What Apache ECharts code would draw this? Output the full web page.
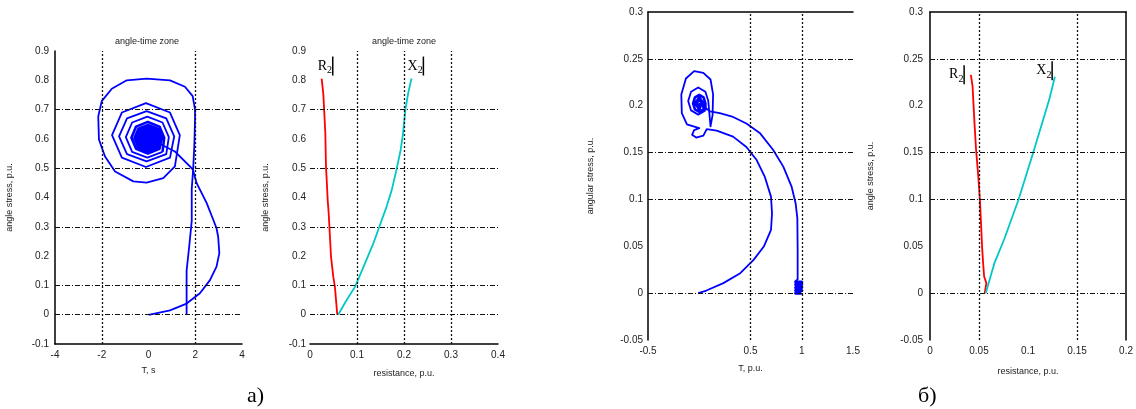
<!DOCTYPE html>
<html><head><meta charset="utf-8">
<script src="https://cdn.jsdelivr.net/npm/echarts@6/dist/echarts.min.js"></script>
<style>html,body{margin:0;padding:0;background:#fff;}#c{width:1136px;height:409px;}</style>
</head><body><div id="c"></div>
<script>
// ---- panel a), left: phase trajectory ----
const armA = [
  [1.63,0.0],[1.63,0.15],[1.74,0.232],[1.85,0.32],[1.85,0.43],[1.91,0.495],[1.96,0.575],[1.99,0.666],[1.99,0.70],
  [1.89,0.746],[1.56,0.778],[0.92,0.80],[-0.08,0.806],[-0.93,0.80],[-1.57,0.771],[-2.0,0.729],[-2.15,0.677],
  [-2.12,0.598],[-1.86,0.54],[-1.43,0.489],[-0.65,0.455],[-0.08,0.451],[0.63,0.466],[1.13,0.506],
  [1.34,0.613],[0.92,0.690],[-0.11,0.722],[-1.14,0.690],[-1.56,0.613],[-1.14,0.536],[-0.11,0.504],[0.92,0.536],
  [1.10,0.609],[0.76,0.670],[-0.08,0.695],[-0.92,0.670],[-1.26,0.609],[-0.92,0.548],[-0.08,0.523],[0.76,0.548],
  [0.87,0.606],[0.60,0.656],[-0.05,0.676],[-0.70,0.656],[-0.97,0.606],[-0.70,0.556],[-0.05,0.536],[0.60,0.556]
];
const coreA = [
  [0.60,0.556],
  [0.67,0.604],[0.47,0.642],[-0.03,0.658],[-0.53,0.642],[-0.73,0.604],[-0.53,0.566],[-0.03,0.550],[0.47,0.566],
  [0.56,0.603],[0.39,0.635],[-0.02,0.648],[-0.43,0.635],[-0.60,0.603],[-0.43,0.571],[-0.02,0.558],[0.39,0.571],
  [0.45,0.603],[0.31,0.629],[-0.02,0.639],[-0.35,0.629],[-0.49,0.603],[-0.35,0.577],[-0.02,0.567],[0.31,0.577],
  [0.35,0.603],[0.24,0.623],[-0.02,0.631],[-0.28,0.623],[-0.39,0.603],[-0.28,0.583],[-0.02,0.575],[0.24,0.583],
  [0.26,0.603],[0.18,0.619],[-0.02,0.625],[-0.22,0.619],[-0.30,0.603],[-0.22,0.587],[-0.02,0.581],[0.18,0.587],
  [0.18,0.603],[0.12,0.614],[-0.02,0.618],[-0.16,0.614],[-0.22,0.603],[-0.16,0.592],[-0.02,0.588],[0.12,0.592],
  [0.10,0.603],[-0.02,0.612],[-0.14,0.603],[-0.02,0.594],
  [0.03,0.603],[-0.02,0.607],[-0.07,0.603],[-0.02,0.599],[-0.02,0.603]
];
const exitA = [
  [-0.02,0.603],[1.13,0.557],[1.77,0.506],[1.90,0.495],[2.06,0.449],[2.49,0.381],[2.77,0.324],[2.91,0.295],[2.98,0.266],
  [3.03,0.21],[2.91,0.164],[2.63,0.118],[2.2,0.073],[1.63,0.038],[0.92,0.015],[0.06,0.0],[0.0,0.0]
];
// ---- panel a), right: resistance R2 and reactance X2 ----
const r2A = [[0.058,0.0],[0.053,0.095],[0.0496,0.129],[0.0447,0.198],[0.0426,0.261],[0.0397,0.347],[0.0376,0.392],
  [0.0355,0.461],[0.034,0.506],[0.0326,0.62],[0.0284,0.752],[0.0248,0.806]];
const x2A = [[0.060,0.0],[0.078,0.05],[0.0957,0.095],[0.117,0.175],[0.135,0.244],[0.145,0.289],[0.163,0.369],
  [0.174,0.426],[0.184,0.495],[0.193,0.563],[0.198,0.62],[0.203,0.70],[0.209,0.757],[0.216,0.806]];
// ---- panel б), left: phase trajectory ----
const armB = [
  [-0.01,0.0],[0.07,0.0028],[0.235,0.0107],[0.40,0.0213],[0.53,0.0355],[0.63,0.0497],[0.70,0.0676],[0.71,0.085],
  [0.70,0.103],[0.64,0.124],[0.56,0.142],[0.46,0.156],[0.33,0.167],[0.17,0.1735],[0.073,0.175],
  [0.04,0.168],[-0.03,0.166],[-0.07,0.169],[-0.05,0.174],[0.0,0.176],
  [-0.12,0.18],[-0.17,0.192],[-0.175,0.212],[-0.13,0.229],[-0.05,0.237],[0.04,0.235],[0.11,0.228],[0.135,0.212],[0.13,0.19],[0.11,0.178],
  [0.088,0.205],[0.06,0.215],[-0.01,0.2195],[-0.08,0.215],[-0.108,0.205],[-0.08,0.195],[-0.01,0.1905],[0.06,0.195]
];
const coreB = [
  [0.06,0.195],
  [0.06,0.2025],[0.042,0.209],[0.0,0.2115],[-0.042,0.209],[-0.06,0.2025],[-0.042,0.196],[0.0,0.1935],[0.042,0.196],
  [0.04,0.2025],[0.0,0.209],[-0.04,0.2025],[0.0,0.196],[0.025,0.2025],[0.0,0.2065],[-0.025,0.2025],[0.0,0.1985],[0.0,0.2025]
];
const exitB = [
  [0.0,0.2025],[0.105,0.194],[0.2,0.192],[0.33,0.188],[0.46,0.181],[0.59,0.171],[0.72,0.153],[0.82,0.135],[0.90,0.114],
  [0.94,0.096],[0.957,0.080],[0.96,0.046],[0.96,0.014]
];
const blockB = [
  [0.96,0.014],[0.94,0.012],[1.0,0.012],[0.94,0.009],[1.0,0.009],[0.94,0.006],[1.0,0.006],[0.94,0.003],[1.0,0.003],[0.94,0.0],[1.0,0.0]
];
// ---- panel б), right ----
const r2B = [[0.0558,0.0],[0.0575,0.0107],[0.0552,0.0177],[0.0542,0.032],[0.0532,0.048],[0.0519,0.078],[0.0509,0.0996],
  [0.0493,0.124],[0.047,0.153],[0.0453,0.183],[0.0434,0.221],[0.0417,0.233]];
const x2B = [[0.0568,0.0],[0.0608,0.0142],[0.0657,0.032],[0.0755,0.057],[0.0903,0.0996],[0.105,0.149],[0.1215,0.206],[0.1274,0.231]];

const gridYA = [0, 0.1, 0.3, 0.5, 0.7];
const gridXA1 = [-2, 2];
const gridXA2 = [0.1, 0.2, 0.3];
const gridYB = [0, 0.1, 0.15, 0.25];
const gridXB1 = [0.5, 1];
const gridXB2 = [0.05, 0.15];

const titles = ['angle-time zone', 'angle-time zone'];
const xNames = ['T, s', 'resistance, p.u.', 'T, p.u.', 'resistance, p.u.'];
const yNames = ['angle stress, p.u.', 'angle stress, p.u.', 'angular stress, p.u.', 'angle stress, p.u.'];

const chart = echarts.init(document.getElementById('c'));
const LBL = {fontSize:10, color:'#222', fontFamily:'Liberation Sans'};
const NAME = {fontSize:9, color:'#222', fontFamily:'Liberation Sans'};
const AX = {lineStyle:{color:'#000', width:1.5}, onZero:false};
const H = {type:[5,2,1,2], color:'#111', width:1};
const V = {type:[2,2], color:'#111', width:1.3};

function gridSeries(xi, yi, gx, gy) {
  return {type:'line', xAxisIndex:xi, yAxisIndex:yi, data:[], z:1, silent:true,
    markLine:{symbol:'none', silent:true, animation:false, label:{show:false},
      data: gy.map(v => ({yAxis:v, lineStyle:H})).concat(gx.map(v => ({xAxis:v, lineStyle:V})))}};
}
function curve(xi, yi, data, color, w, lab) {
  const s = {type:'line', xAxisIndex:xi, yAxisIndex:yi, data, showSymbol:false, symbol:'none', z:3,
    lineStyle:{color, width:w, join:'round'}, itemStyle:{color}};
  if (lab) s.endLabel = Object.assign({show:true, distance:0,
    fontFamily:'Liberation Serif', fontSize:14, color:'#000',
    rich:{s:{fontSize:10, fontFamily:'Liberation Serif', color:'#000', verticalAlign:'bottom', padding:[4,0,0,0]},
          b:{width:1.5, height:19, backgroundColor:'#000', verticalAlign:'bottom'}}}, lab);
  return s;
}
const rl = n => () => n + '{s|2}{b|}';

function xAxis(gi, min, max, intv, name, gap, extra) {
  return Object.assign({type:'value', gridIndex:gi, min, max, interval:intv, position:'bottom',
    axisLine:AX, axisTick:{show:false}, splitLine:{show:false},
    axisLabel:Object.assign({margin:6}, LBL), name, nameLocation:'middle', nameGap:gap, nameTextStyle:NAME}, extra||{});
}
function yAxis(gi, min, max, intv, name, gap, extra) {
  return Object.assign({type:'value', gridIndex:gi, min, max, interval:intv, position:'left',
    axisLine:Object.assign({show:true}, AX), axisTick:{show:false}, splitLine:{show:false},
    axisLabel:Object.assign({margin:6}, LBL), name, nameLocation:'middle', nameGap:gap, nameRotate:90, nameTextStyle:NAME}, extra||{});
}
const frame = (gi, min, max, pos) => ({type:'value', gridIndex:gi, min, max, position:pos,
  axisLine:Object.assign({show:true}, AX), axisTick:{show:false}, axisLabel:{show:false}, splitLine:{show:false}});

chart.setOption({
  animation:false,
  backgroundColor:'#fff',
  grid:[
    {left:55, top:51, width:187, height:293},
    {left:310, top:51, width:188, height:293},
    {left:648, top:12, width:205, height:328},
    {left:930, top:12, width:203, height:328}
  ],
  xAxis:[
    xAxis(0, -4, 4, 2, xNames[0], 22),
    xAxis(1, 0, 0.4, 0.1, xNames[1], 25),
    xAxis(2, -0.5, 1.5, 0.5, xNames[2], 24, {axisLine:{show:false, onZero:false},
      axisLabel:Object.assign({margin:6, formatter: v => (v === 0 ? '' : String(v))}, LBL)}),
    xAxis(3, 0, 0.2, 0.05, xNames[3], 27, {axisLine:{show:false, onZero:false}}),
    frame(2, -0.5, 1.5, 'top'),
    frame(3, 0, 0.2, 'top')
  ],
  yAxis:[
    yAxis(0, -0.1, 0.9, 0.1, yNames[0], 41),
    yAxis(1, -0.1, 0.9, 0.1, yNames[1], 40, {axisLine:{show:false, onZero:false}, axisLabel:Object.assign({margin:4}, LBL)}),
    yAxis(2, -0.05, 0.3, 0.05, yNames[2], 53, {axisLabel:Object.assign({margin:5}, LBL)}),
    yAxis(3, -0.05, 0.3, 0.05, yNames[3], 55, {axisLabel:Object.assign({margin:7}, LBL)}),
    frame(3, -0.05, 0.3, 'right')
  ],
  series:[
    gridSeries(0, 0, gridXA1, gridYA),
    gridSeries(1, 1, gridXA2, gridYA),
    gridSeries(2, 2, gridXB1, gridYB),
    gridSeries(3, 3, gridXB2, gridYB),
    curve(0, 0, armA, '#0000ff', 1.8),
    curve(0, 0, coreA, '#0000ff', 2.6),
    curve(0, 0, exitA, '#0000ff', 1.8),
    curve(1, 1, r2A, '#ff0000', 1.8, {formatter:rl('R'), align:'left', verticalAlign:'bottom', offset:[-4,-3]}),
    curve(1, 1, x2A, '#00c8c8', 1.8, {formatter:rl('X'), align:'left', verticalAlign:'bottom', offset:[-4,-3]}),
    curve(2, 2, armB, '#0000ff', 1.8),
    curve(2, 2, coreB, '#0000ff', 2.6),
    curve(2, 2, exitB, '#0000ff', 1.8),
    curve(2, 2, blockB, '#0000ff', 3),
    curve(3, 3, r2B, '#ff0000', 1.8, {formatter:rl('R'), align:'right', verticalAlign:'middle', offset:[-6,0]}),
    curve(3, 3, x2B, '#00c8c8', 1.8, {formatter:rl('X'), align:'right', verticalAlign:'middle', offset:[-2,-6]})
  ],
  graphic:[
    {type:'text', x:147, y:42, style:{text:titles[0], textAlign:'center', textVerticalAlign:'middle', font:'9px "Liberation Sans"', fill:'#222'}},
    {type:'text', x:404, y:42, style:{text:titles[1], textAlign:'center', textVerticalAlign:'middle', font:'9px "Liberation Sans"', fill:'#222'}},
    {type:'text', x:247, y:396, style:{text:'а)', textVerticalAlign:'middle', font:'22px "Liberation Serif"', fill:'#000'}},
    {type:'text', x:918, y:396, style:{text:'б)', textVerticalAlign:'middle', font:'22px "Liberation Serif"', fill:'#000'}}
  ]
});
</script></body></html>
